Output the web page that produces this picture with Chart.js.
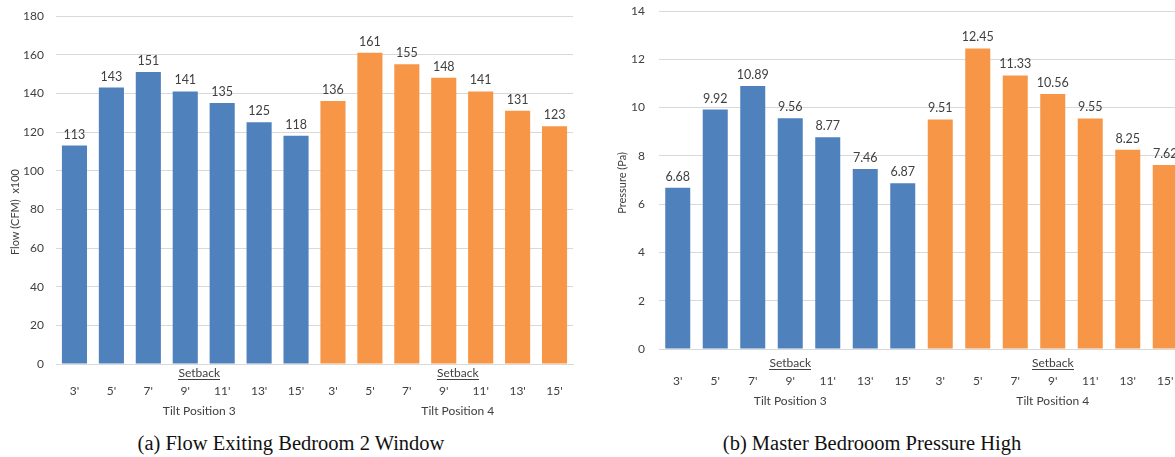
<!DOCTYPE html>
<html><head><meta charset="utf-8">
<script src="https://cdn.jsdelivr.net/npm/chart.js@4.4.0/dist/chart.umd.min.js"></script>
<style>
html,body{margin:0;padding:0;background:#fff;overflow:hidden;width:1175px;height:457px;position:relative;}
canvas{position:absolute;top:0;}
#ca{left:0;}
#cb{left:600px;}
.cap{position:absolute;top:432px;font-family:"Liberation Serif","Times New Roman",serif;font-size:20.5px;white-space:nowrap;color:#111;transform:translateX(-50%);}
</style></head><body>
<canvas id="ca" width="590" height="425"></canvas>
<canvas id="cb" width="600" height="425"></canvas>
<div class="cap" id="capA" style="left:291px">(a) Flow Exiting Bedroom 2 Window</div>
<div class="cap" id="capB" style="left:872px">(b) Master Bedrooom Pressure High</div>
<script>
// ---- data ----
const setbacks = ["3'", "5'", "7'", "9'", "11'", "13'", "15'"];
const groupLabels = ["Tilt Position 3", "Tilt Position 4"];
const subLabel = "Setback";
const flowTilt3 = [113, 143, 151, 141, 135, 125, 118];
const flowTilt4 = [136, 161, 155, 148, 141, 131, 123];
const pressureTilt3 = [6.68, 9.92, 10.89, 9.56, 8.77, 7.46, 6.87];
const pressureTilt4 = [9.51, 12.45, 11.33, 10.56, 9.55, 8.25, 7.62];
const flowTitle = "Flow (CFM)  x100";
const pressureTitle = "Pressure (Pa)";

const BLUE = '#4F81BD', ORANGE = '#F79646';
const FONT = 'Lato, "Open Sans", sans-serif';

function makeChart(id, s3, s4, opt) {
  const n = setbacks.length;
  const labels = setbacks.concat(setbacks);
  const d3 = s3.concat(new Array(n).fill(null));
  const d4 = new Array(n).fill(null).concat(s4);
  const canvas = document.getElementById(id);
  const W = canvas.width, H = canvas.height;

  const extras = {
    id: 'extras_' + id,
    afterDatasetsDraw(chart) {
      const ctx = chart.ctx;
      const xs = chart.scales.x;
      ctx.save();
      // data labels
      ctx.font = '12.5px ' + FONT;
      ctx.fillStyle = '#404040';
      ctx.textAlign = 'center';
      ctx.textBaseline = 'middle';
      chart.data.datasets.forEach((ds, di) => {
        const meta = chart.getDatasetMeta(di);
        meta.data.forEach((el, i) => {
          const v = ds.data[i];
          if (v === null) return;
          ctx.fillText(opt.fmt(v), el.x, el.y - 11);
        });
      });
      // group labels
      const cw = xs.getPixelForValue(1) - xs.getPixelForValue(0);
      for (let g = 0; g < 2; g++) {
        const cx = xs.getPixelForValue(g * n + 3) + opt.groupShift * cw;
        ctx.font = '12px ' + FONT;
        ctx.fillStyle = '#404040';
        ctx.textBaseline = 'middle';
        ctx.fillText(subLabel, cx, opt.setbackY);
        const w = ctx.measureText(subLabel).width;
        ctx.fillRect(Math.round(cx - w / 2), opt.setbackY + 6, Math.round(w), 1);
        ctx.fillText(groupLabels[g], cx, opt.groupY);
      }
      // y title
      ctx.translate(opt.titleX, opt.titleY);
      ctx.rotate(-Math.PI / 2);
      ctx.font = '11px ' + FONT;
      ctx.fillStyle = '#404040';
      ctx.fillText(opt.title, 0, 0);
      ctx.restore();
    }
  };

  return new Chart(canvas, {
    type: 'bar',
    data: {
      labels: labels,
      datasets: [
        { label: groupLabels[0], data: d3, backgroundColor: BLUE, grouped: false, barPercentage: opt.barPct, categoryPercentage: 1 },
        { label: groupLabels[1], data: d4, backgroundColor: ORANGE, grouped: false, barPercentage: opt.barPct, categoryPercentage: 1 }
      ]
    },
    options: {
      responsive: false,
      animation: false,
      devicePixelRatio: 1,
      layout: { padding: { left: 0, right: W - opt.right, top: opt.top, bottom: 0 } },
      plugins: { legend: { display: false }, tooltip: { enabled: false }, title: { display: false } },
      scales: {
        x: {
          grid: { display: false, drawTicks: false },
          border: { display: true, color: '#D9D9D9', width: 1 },
          ticks: { font: { family: FONT, size: 12 }, color: '#404040', padding: opt.xTickPad, autoSkip: false, maxRotation: 0 },
          afterFit(scale) { scale.height = H - opt.bottom; scale.paddingLeft = 0; scale.paddingRight = 0; }
        },
        y: {
          min: 0, max: opt.max,
          grid: { color: '#D9D9D9', lineWidth: 1, drawTicks: false },
          border: { display: false },
          ticks: { stepSize: opt.step, font: { family: FONT, size: 12 }, color: '#404040', padding: opt.yTickPad },
          afterFit(scale) { scale.width = opt.left; scale.paddingTop = 0; scale.paddingBottom = 0; }
        }
      }
    },
    plugins: [extras]
  });
}

makeChart('ca', flowTilt3, flowTilt4, {
  left: 56, right: 573, top: 16, bottom: 364, max: 180, step: 20, barPct: 0.68,
  xTickPad: 20, yTickPad: 12, setbackY: 373, groupY: 411, groupShift: 0.38,
  titleX: 15, titleY: 212, title: flowTitle, fmt: v => String(v)
});
makeChart('cb', pressureTilt3, pressureTilt4, {
  left: 59, right: 584, top: 11, bottom: 349, max: 14, step: 2, barPct: 0.667,
  xTickPad: 25, yTickPad: 14, setbackY: 363, groupY: 401, groupShift: 0,
  titleX: 22, titleY: 183, title: pressureTitle, fmt: v => v.toFixed(2)
});
</script>
</body></html>
